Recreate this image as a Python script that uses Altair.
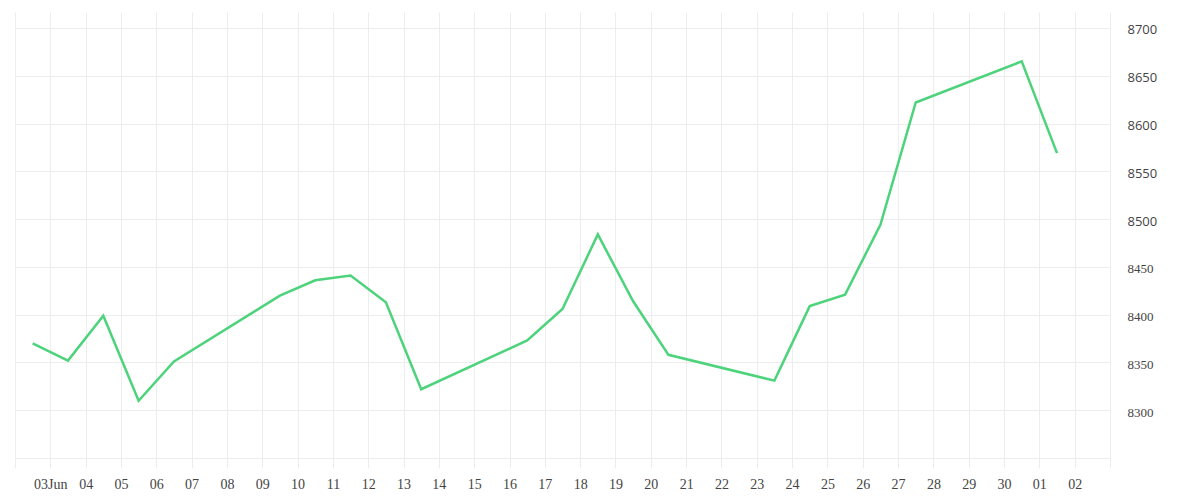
import altair as alt
import pandas as pd

dates = ["2025-06-02", "2025-06-03", "2025-06-04", "2025-06-05", "2025-06-06",
         "2025-06-09", "2025-06-10", "2025-06-11", "2025-06-12", "2025-06-13",
         "2025-06-16", "2025-06-17", "2025-06-18", "2025-06-19", "2025-06-20",
         "2025-06-23", "2025-06-24", "2025-06-25", "2025-06-26", "2025-06-27",
         "2025-06-30", "2025-07-01"]
values = [8370, 8352, 8399, 8310, 8351,
          8420, 8436, 8441, 8413, 8322,
          8373, 8406, 8484, 8414, 8358,
          8331, 8409, 8421, 8494, 8622,
          8665, 8569]
y_ticks = [8250, 8300, 8350, 8400, 8450, 8500, 8550, 8600, 8650, 8700]

df = pd.DataFrame({"date": pd.to_datetime(dates) + pd.Timedelta(hours=12), "value": values})

x_axis = alt.Axis(
    format="%d",
    tickCount={"interval": "day", "step": 1},
    labelExpr=("(month(datum.value) == 5 && date(datum.value) == 2) || (month(datum.value) == 6 && date(datum.value) == 3) ? '' : "
               "((month(datum.value) == 5 && date(datum.value) == 3) ? '03Jun' : timeFormat(datum.value, '%d'))"),
    grid=True, gridColor="#ededed", gridWidth=1,
    domain=False, ticks=False,
    labelFont="Liberation Serif", labelFontSize=14, labelColor="#444",
    labelPadding=9, title=None, labelOverlap=False,
)
y_axis = alt.Axis(
    orient="right", values=y_ticks,
    labelExpr="datum.value == 8250 ? '' : datum.label",
    format="d",
    grid=True, gridColor="#ededed", gridWidth=1,
    domain=False, ticks=False,
    labelFont={"condition": {"test": "datum.value >= 8500", "value": "Open Sans"}, "value": "Liberation Serif"},
    labelFontSize=13, labelColor="#444",
    labelPadding=17, labelOffset=2, title=None,
)

chart = alt.Chart(df).mark_line(color="#4cd37b", strokeWidth=2.5).encode(
    x=alt.X("date:T", axis=x_axis,
            scale=alt.Scale(domain=[alt.DateTime(year=2025, month=6, date=2),
                                    alt.DateTime(year=2025, month=7, date=3)], nice=False)),
    y=alt.Y("value:Q", axis=y_axis, scale=alt.Scale(domain=[8239.6, 8716.7], nice=False, zero=False)),
).properties(
    width=1095, height=456,
    padding={"left": 7, "top": 4, "right": 5, "bottom": 5},
    background="white",
).configure_view(stroke=None)

chart.save("out.html", embed_options={"renderer": "svg", "actions": False})
